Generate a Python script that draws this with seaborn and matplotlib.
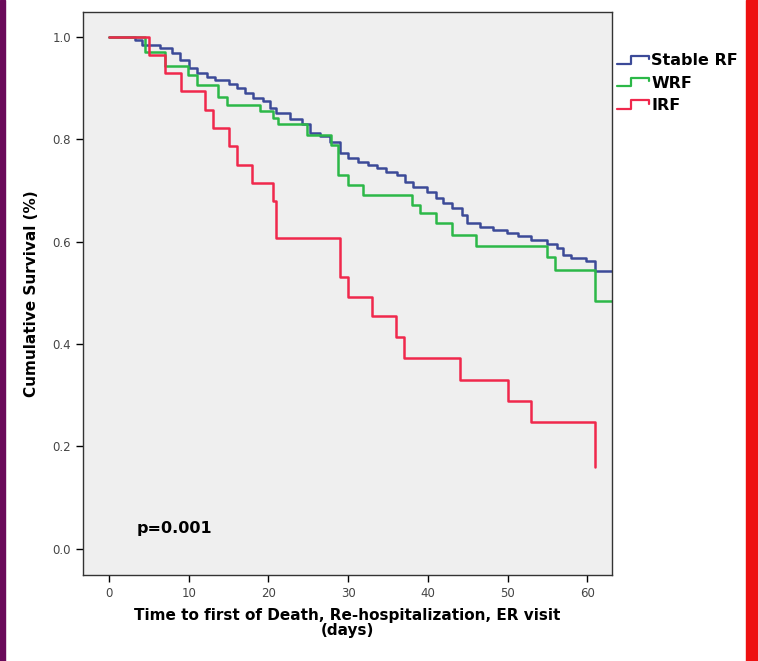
import pandas as pd
import seaborn as sns
import matplotlib.pyplot as plt
from matplotlib.lines import Line2D
from matplotlib.patches import Rectangle
from matplotlib.legend_handler import HandlerBase

# Kaplan-Meier curves (days, cumulative survival)
stable_t = [0, 3.3, 4.1, 6.4, 7.9, 8.9, 10.0, 11.0, 12.3, 13.3, 15.0, 16.0, 17.0,
            18.1, 19.3, 20.2, 21.0, 22.7, 24.2, 25.2, 26.5, 27.7, 29.0, 30.0, 31.2,
            32.5, 33.6, 34.8, 36.1, 37.1, 38.1, 39.9, 41.0, 41.9, 43.0, 44.3, 44.9,
            46.6, 48.2, 49.9, 51.3, 53.0, 54.9, 56.2, 57.0, 58.0, 59.9, 61.0, 63.2]
stable_s = [1.0, 0.994, 0.984, 0.977, 0.968, 0.955, 0.938, 0.928, 0.922, 0.916, 0.907, 0.900, 0.890,
            0.880, 0.874, 0.860, 0.850, 0.840, 0.830, 0.812, 0.805, 0.795, 0.773, 0.763, 0.756,
            0.749, 0.743, 0.736, 0.730, 0.717, 0.707, 0.697, 0.684, 0.675, 0.665, 0.652, 0.636,
            0.628, 0.622, 0.617, 0.611, 0.602, 0.596, 0.587, 0.574, 0.567, 0.561, 0.543, 0.543]

wrf_t = [0, 4.5, 7.0, 9.9, 11.0, 13.7, 14.8, 19.0, 20.6, 21.2, 24.8, 27.9, 28.7, 30.0,
         31.9, 38.0, 39.0, 41.0, 43.0, 46.0, 55.0, 56.0, 61.0, 63.2]
wrf_s = [1.0, 0.970, 0.942, 0.925, 0.906, 0.883, 0.867, 0.854, 0.841, 0.830, 0.808, 0.788, 0.730, 0.710,
         0.691, 0.671, 0.656, 0.636, 0.613, 0.591, 0.570, 0.544, 0.483, 0.483]

irf_t = [0, 5, 7, 9, 12, 13, 15, 16, 18, 20.6, 21, 29, 30, 33, 36, 37, 44, 50, 53, 61]
irf_s = [1.0, 0.964, 0.929, 0.893, 0.857, 0.821, 0.786, 0.750, 0.714, 0.679, 0.607, 0.530,
         0.492, 0.455, 0.414, 0.373, 0.330, 0.289, 0.248, 0.160]

groups = ["Stable RF", "WRF", "IRF"]
colors = ["#3c4a98", "#2cb848", "#f0284c"]

df = pd.concat([
    pd.DataFrame({"time": stable_t, "surv": stable_s, "group": "Stable RF"}),
    pd.DataFrame({"time": wrf_t, "surv": wrf_s, "group": "WRF"}),
    pd.DataFrame({"time": irf_t, "surv": irf_s, "group": "IRF"}),
], ignore_index=True)

sns.set_style("white")
plt.rcParams["text.color"] = "black"
plt.rcParams["axes.labelcolor"] = "black"

fig = plt.figure(figsize=(7.58, 6.61), dpi=100)
ax = fig.add_axes([83 / 758, 1 - 575 / 661, (612 - 83) / 758, (575 - 12) / 661])
ax.set_facecolor("#efefef")

sns.lineplot(data=df, x="time", y="surv", hue="group", hue_order=groups,
             palette=colors, drawstyle="steps-post", estimator=None, sort=False,
             linewidth=1.8, ax=ax, legend=False)

ax.set_xlim(-3.26, 63.1)
ax.set_ylim(-0.051, 1.048)
ax.set_xticks([0, 10, 20, 30, 40, 50, 60])
ax.set_yticks([0.0, 0.2, 0.4, 0.6, 0.8, 1.0])
ax.set_yticklabels(["0.0", "0.2", "0.4", "0.6", "0.8", "1.0"])
ax.tick_params(axis="both", direction="out", length=5, width=1, color="black",
               labelsize=8.5, labelcolor="#444444", bottom=True, left=True)
for sp in ax.spines.values():
    sp.set_color("#333333")
    sp.set_linewidth(1)

ax.set_xlabel("Time to first of Death, Re-hospitalization, ER visit\n(days)",
              fontsize=11, fontweight="bold", labelpad=6, linespacing=0.95, color="black")
ax.set_ylabel("Cumulative Survival (%)", fontsize=11, fontweight="bold", labelpad=10, color="black")

ax.text(3.5, 0.039, "p=0.001", fontsize=11.5, fontweight="bold", va="center", ha="left", color="black")


# step-shaped legend glyphs like the SPSS output
class StepHandler(HandlerBase):
    def create_artists(self, legend, orig_handle, xdescent, ydescent, width, height, fontsize, trans):
        x0, y0 = -xdescent, -ydescent
        xs = [x0, x0 + width * 0.45, x0 + width * 0.45, x0 + width, x0 + width]
        ys = [y0 + height * 0.1, y0 + height * 0.1, y0 + height * 0.85, y0 + height * 0.85, y0 + height * 0.55]
        ln = Line2D(xs, ys, color=orig_handle.get_color(), linewidth=1.6, transform=trans)
        return [ln]


handles = [Line2D([], [], color=c) for c in colors]
leg = ax.legend(handles, groups, loc="upper left", bbox_to_anchor=(1.0, 0.935), frameon=False,
                prop={"weight": "bold", "size": 11.5}, handlelength=2.0, handletextpad=0.15,
                borderaxespad=0.3, borderpad=0.0, labelspacing=0.45,
                handler_map={Line2D: StepHandler()})
for t in leg.get_texts():
    t.set_color("black")

# coloured edge strips of the source image
fig.patches.append(Rectangle((0, 0), 5 / 758, 1, transform=fig.transFigure, color="#6a0a5a", zorder=10))
fig.patches.append(Rectangle((746 / 758, 0), 12 / 758, 1, transform=fig.transFigure, color="#ee1111", zorder=10))

fig.savefig("out.png", dpi=100)
